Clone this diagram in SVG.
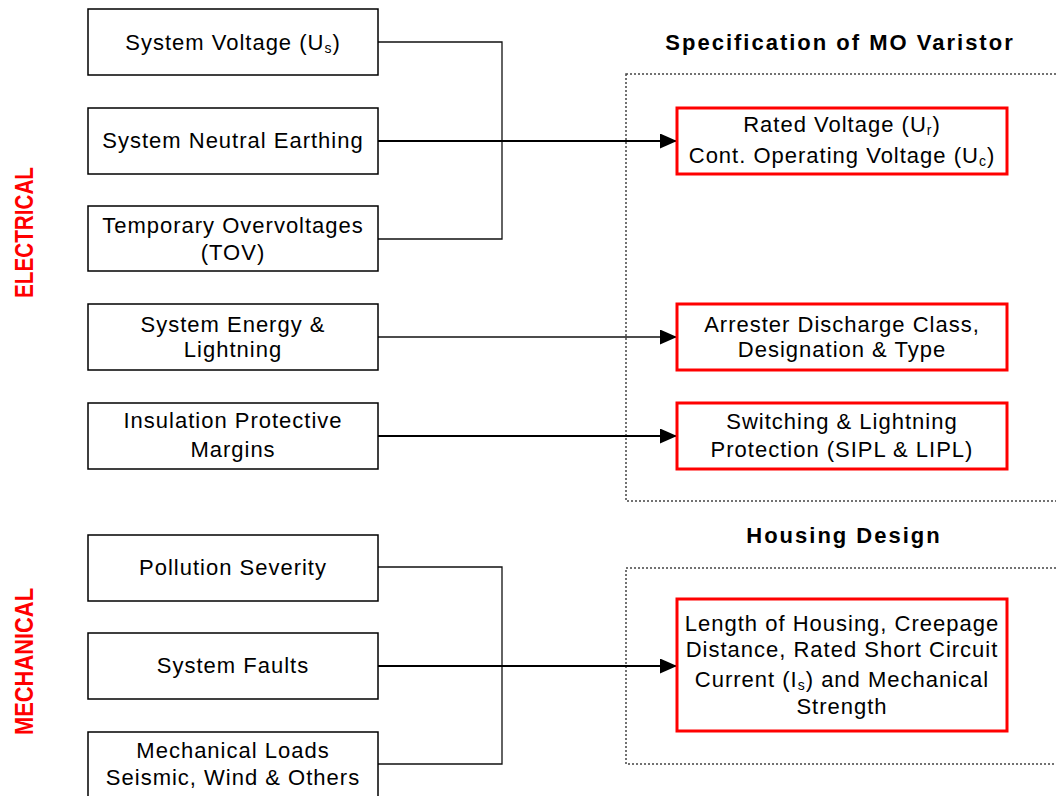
<svg xmlns="http://www.w3.org/2000/svg" width="1056" height="796" viewBox="0 0 1056 796">
<style>
.box{fill:#fff;stroke:#000;stroke-width:1.5}
.rbox{fill:#fff;stroke:#f00;stroke-width:3}
.t{font-family:"Liberation Sans",Arial,sans-serif;font-size:22px;letter-spacing:1px;fill:#000;text-anchor:middle}
.title{font-family:"Liberation Sans",Arial,sans-serif;font-weight:bold;letter-spacing:2px;font-size:22px;fill:#000;text-anchor:middle}
.side{font-family:"Liberation Sans",Arial,sans-serif;font-weight:bold;fill:#f00;font-size:25px;text-anchor:middle}
.thin{stroke:#111;stroke-width:1.3;fill:none}
.thick{stroke:#000;stroke-width:2.2;fill:none}
.dot{fill:none;stroke:#444;stroke-width:1.5;stroke-dasharray:2 2}
.sub{font-size:14px}
</style>
<defs>
<marker id="arr" markerUnits="userSpaceOnUse" markerWidth="18" markerHeight="16" refX="17" refY="7.5" orient="auto">
<path d="M0,0 L17,7.5 L0,15 z" fill="#000"/>
</marker>
</defs>
<rect width="1056" height="796" fill="#fff"/>

<g id="containers">
<rect class="dot" x="626" y="74" width="440" height="427"/>
<rect class="dot" x="626" y="568" width="440" height="196"/>
<text class="title" x="840" y="50">Specification of MO Varistor</text>
<text class="title" x="844" y="543">Housing Design</text>
</g>

<g id="side-labels">
<text class="side" transform="translate(33,232.5) rotate(-90)" textLength="131" lengthAdjust="spacingAndGlyphs">ELECTRICAL</text>
<text class="side" transform="translate(33,661.5) rotate(-90)" textLength="147" lengthAdjust="spacingAndGlyphs">MECHANICAL</text>
</g>

<g id="connectors">
<polyline class="thin" points="378,42 502,42 502,239 378,239"/>
<line class="thick" x1="378" y1="141" x2="677" y2="141" marker-end="url(#arr)"/>
<line class="thin" x1="378" y1="337" x2="677" y2="337" marker-end="url(#arr)"/>
<line class="thick" x1="378" y1="436" x2="677" y2="436" marker-end="url(#arr)"/>
<polyline class="thin" points="378,567 502,567 502,764 378,764"/>
<line class="thick" x1="378" y1="666" x2="677" y2="666" marker-end="url(#arr)"/>
</g>

<g id="n-system-voltage">
<rect class="box" x="88" y="9" width="290" height="66"/>
<text class="t" x="233" y="50">System Voltage (U<tspan class="sub" dy="3">s</tspan><tspan dy="-3">)</tspan></text>
</g>
<g id="n-neutral-earthing">
<rect class="box" x="88" y="108" width="290" height="66"/>
<text class="t" x="233" y="148">System Neutral Earthing</text>
</g>
<g id="n-tov">
<rect class="box" x="88" y="206" width="290" height="65"/>
<text class="t" x="233" y="233">Temporary Overvoltages</text>
<text class="t" x="233" y="260">(TOV)</text>
</g>
<g id="n-energy">
<rect class="box" x="88" y="304" width="290" height="66"/>
<text class="t" x="233" y="332">System Energy &amp;</text>
<text class="t" x="233" y="357">Lightning</text>
</g>
<g id="n-insulation">
<rect class="box" x="88" y="403" width="290" height="66"/>
<text class="t" x="233" y="428">Insulation Protective</text>
<text class="t" x="233" y="457">Margins</text>
</g>
<g id="n-pollution">
<rect class="box" x="88" y="535" width="290" height="66"/>
<text class="t" x="233" y="575">Pollution Severity</text>
</g>
<g id="n-faults">
<rect class="box" x="88" y="633" width="290" height="66"/>
<text class="t" x="233" y="673">System Faults</text>
</g>
<g id="n-mech-loads">
<rect class="box" x="88" y="732" width="290" height="70"/>
<text class="t" x="233" y="758">Mechanical Loads</text>
<text class="t" x="233" y="785">Seismic, Wind &amp; Others</text>
</g>

<g id="r-rated-voltage">
<rect class="rbox" x="677" y="108" width="330" height="66"/>
<text class="t" x="842" y="132">Rated Voltage (U<tspan class="sub" dy="3">r</tspan><tspan dy="-3">)</tspan></text>
<text class="t" x="842" y="163">Cont. Operating Voltage (U<tspan class="sub" dy="3">c</tspan><tspan dy="-3">)</tspan></text>
</g>
<g id="r-discharge">
<rect class="rbox" x="677" y="304" width="330" height="66"/>
<text class="t" x="842" y="332">Arrester Discharge Class,</text>
<text class="t" x="842" y="357">Designation &amp; Type</text>
</g>
<g id="r-protection">
<rect class="rbox" x="677" y="403" width="330" height="66"/>
<text class="t" x="842" y="429">Switching &amp; Lightning</text>
<text class="t" x="842" y="457">Protection (SIPL &amp; LIPL)</text>
</g>
<g id="r-housing">
<rect class="rbox" x="677" y="599" width="330" height="132"/>
<text class="t" x="842" y="631">Length of Housing, Creepage</text>
<text class="t" x="842" y="657">Distance, Rated Short Circuit</text>
<text class="t" x="842" y="687">Current (I<tspan class="sub" dy="3">s</tspan><tspan dy="-3">) and Mechanical</tspan></text>
<text class="t" x="842" y="714">Strength</text>
</g>
</svg>
